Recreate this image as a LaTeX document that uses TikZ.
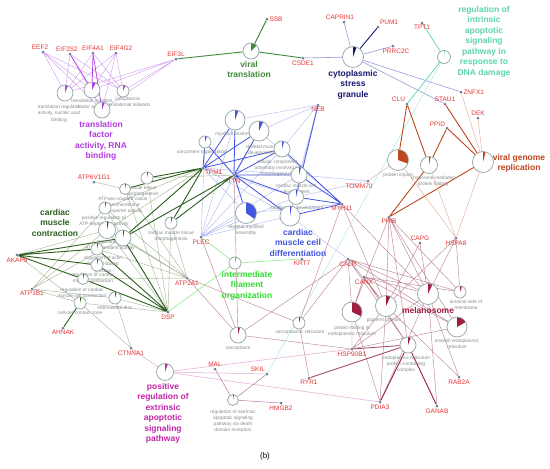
\documentclass[tikz,border=0pt]{standalone}
\usepackage{fontspec}
\setmainfont{Liberation Sans}
\usetikzlibrary{backgrounds}
\definecolor{genered}{RGB}{232,52,52}
\definecolor{dotgray}{RGB}{112,124,150}
\definecolor{ringgray}{RGB}{150,165,165}
\definecolor{lblgray}{RGB}{135,140,140}
\definecolor{trpurple}{RGB}{178,60,224}
\definecolor{trlight}{RGB}{212,164,240}
\definecolor{vtgreen}{RGB}{64,140,58}
\definecolor{sgnavy}{RGB}{22,22,110}
\definecolor{sglight}{RGB}{150,156,218}
\definecolor{ddteal}{RGB}{95,212,176}
\definecolor{ddlight}{RGB}{170,234,214}
\definecolor{vgbrown}{RGB}{190,70,30}
\definecolor{vglight}{RGB}{226,178,160}
\definecolor{myblue}{RGB}{66,84,224}
\definecolor{mylight}{RGB}{182,190,242}
\definecolor{kgreen}{RGB}{44,96,30}
\definecolor{klight}{RGB}{170,186,158}
\definecolor{ifgreen}{RGB}{52,222,52}
\definecolor{iflight}{RGB}{120,236,120}
\definecolor{melred}{RGB}{158,30,62}
\definecolor{melmid}{RGB}{160,72,102}
\definecolor{mellight}{RGB}{190,136,154}
\definecolor{pxmag}{RGB}{196,36,168}
\definecolor{pxlight}{RGB}{230,166,216}
\definecolor{rexedge}{RGB}{172,112,150}
\begin{document}
\begin{tikzpicture}[
  x=1pt,y=-1pt,
  gene/.style={circle,fill=dotgray,inner sep=0pt,minimum size=3pt},
  genelbl/.style={text=genered,font=\fontsize{6.5}{7.5}\selectfont,inner sep=0.6pt},
  term/.style={circle,draw=ringgray,fill=white,line width=0.75pt,inner sep=0pt,minimum size=#1},
  pie/.style 2 args={path picture={
      \pgfmathsetmacro\pieq{90-#2/4}\pgfmathsetmacro\pieh{90-#2/2}
      \pgfmathsetmacro\piet{90-3*#2/4}\pgfmathsetmacro\piee{90-#2}
      \fill[#1] (path picture bounding box.center) -- (path picture bounding box.north)
        -- (path picture bounding box.\pieq) -- (path picture bounding box.\pieh)
        -- (path picture bounding box.\piet) -- (path picture bounding box.\piee) -- cycle;}},
  termlbl/.style={text=lblgray,font=\fontsize{4.8}{6.2}\selectfont,align=center,anchor=north,inner sep=0pt},
  clus/.style={font=\fontsize{8.5}{10.5}\selectfont\bfseries,align=center,anchor=north,inner sep=0pt},
  lt/.style={line width=0.45pt},
  dk/.style={line width=0.9pt}]
  \useasboundingbox (0,0) rectangle (550,469);
  % genes
  \node[gene,label={[genelbl,xshift=-3pt]above:EEF2}] (eef2) at (43,52) {};
  \node[gene,label={[genelbl,xshift=-3pt]above:EIF2S2}] (eif2s2) at (70,54) {};
  \node[gene,label={[genelbl]above:EIF4A1}] (eif4a1) at (93,53) {};
  \node[gene,label={[genelbl,xshift=5pt]above:EIF4G2}] (eif4g2) at (116,53) {};
  \node[gene,label={[genelbl]above:EIF3L}] (eif3l) at (176,59) {};
  \node[gene,label={[genelbl]right:SSB}] (ssb) at (267,19) {};
  \node[gene,label={[genelbl]below:CSDE1}] (csde1) at (303,58) {};
  \node[gene,label={[genelbl,xshift=-4pt]above:CAPRIN1}] (caprin1) at (344,22) {};
  \node[gene,label={[genelbl]above right:PUM1}] (pum1) at (378,27) {};
  \node[gene,label={[genelbl,xshift=3pt]below:PRRC2C}] (prrc2c) at (393,46) {};
  \node[gene,label={[genelbl]below:TPT1}] (tpt1) at (422,23) {};
  \node[gene,label={[genelbl]right:ZNFX1}] (znfx1) at (461,92) {};
  \node[gene,label={[genelbl]above:STAU1}] (stau1) at (445,104) {};
  \node[gene,label={[genelbl]above left:CLU}] (clu) at (407,104) {};
  \node[gene,label={[genelbl]above:DEK}] (dek) at (478,118) {};
  \node[gene,label={[genelbl]above left:PPID}] (ppid) at (447,128) {};
  \node[gene,label={[genelbl,xshift=-9pt]below:TOMM70}] (tomm70) at (368,181) {};
  \node[gene,label={[genelbl]below:PPIB}] (ppib) at (389,217) {};
  \node[gene,label={[genelbl]below:HSPA8}] (hspa8) at (456,238) {};
  \node[gene,label={[genelbl]above:CAPG}] (capg) at (420,243) {};
  \node[gene,label={[genelbl]below:NEB}] (neb) at (318,105) {};
  \node[gene,label={[genelbl]below right:TPM1}] (tpm1) at (203,168) {};
  \node[gene,label={[genelbl,label distance=2pt]below:TTN}] (ttn) at (234,175) {};
  \node[gene,label={[genelbl]below:MYH11}] (myh11) at (342,204) {};
  \node[gene,label={[genelbl]below:PLEC}] (plec) at (201,237) {};
  \node[gene,label={[genelbl]below:KRT7}] (krt7) at (302,259) {};
  \node[gene,label={[genelbl]below:CALR}] (calr) at (348,259) {};
  \node[gene,label={[genelbl]below:CANX}] (canx) at (364,277) {};
  \node[gene,label={[genelbl]below:HSP90B1}] (hsp90b1) at (352,349) {};
  \node[gene,label={[genelbl]below:RYR1}] (ryr1) at (309,378) {};
  \node[gene,label={[genelbl]above left:SKIL}] (skil) at (267,374) {};
  \node[gene,label={[genelbl]above:MAL}] (mal) at (215,369) {};
  \node[gene,label={[genelbl]below:HMGB2}] (hmgb2) at (281,403) {};
  \node[gene,label={[genelbl]below:PDIA3}] (pdia3) at (380,402) {};
  \node[gene,label={[genelbl]below:GANAB}] (ganab) at (437,406) {};
  \node[gene,label={[genelbl]below:RAB2A}] (rab2a) at (459,377) {};
  \node[gene,label={[genelbl]above:ATP6V1G1}] (atp6v1g1) at (94,182) {};
  \node[gene,label={[genelbl]below:AKAP9}] (akap9) at (17,255) {};
  \node[gene,label={[genelbl]below:ATP1B1}] (atp1b1) at (32,289) {};
  \node[gene,label={[genelbl]below:AHNAK}] (ahnak) at (63,328) {};
  \node[gene,label={[genelbl]below:CTNNA1}] (ctnna1) at (131,348) {};
  \node[gene,label={[genelbl]below:DSP}] (dsp) at (168,312) {};
  \node[gene,label={[genelbl]below:ATP2A1}] (atp2a1) at (187,278) {};
  % term texts
  \node[termlbl] (tralbl) at (59,105) {translation regulator\\activity, nucleic acid\\binding};
  \node[termlbl] (trblbl) at (92,98.5) {translation initiation\\factor activity};
  \node[termlbl] (trclbl) at (128,96.5) {cytoplasmic\\translational initiation};
  \node[termlbl] (pimlbl) at (398,172.5) {protein import};
  \node[termlbl] (cmflbl) at (433,175.5) {chaperone-mediated\\protein folding};
  \node[termlbl] (myalbl) at (235,131.5) {myofibril assembly};
  \node[termlbl] (myblbl) at (262,144.5) {skeletal muscle\\development};
  \node[termlbl] (myclbl) at (202,149.5) {sarcomere organization};
  \node[termlbl] (mydlbl) at (277,159.5) {cellular component\\assembly involved in\\morphogenesis};
  \node[termlbl] (myelbl) at (296,183.5) {cardiac muscle cell\\development};
  \node[termlbl] (myflbl) at (297,205.5) {cardiac cell development};
  \node[termlbl] (myhlbl) at (246,224.5) {skeletal myofibril\\assembly};
  \node[termlbl] (kblbl) at (142,186) {muscle tissue\\morphogenesis};
  \node[termlbl] (kclbl) at (123,196.5) {ATPase-coupled cation\\transmembrane\\transporter activity};
  \node[termlbl] (kdlbl) at (104,215.5) {positive regulation of\\ATP-dependent activity};
  \node[termlbl] (kelbl) at (110,240) {regulation of\\ATP-dependent activity};
  \node[termlbl] (kflbl) at (103,256) {regulation of actin\\filament-based\\process};
  \node[termlbl] (kglbl) at (93,273) {regulation of cardiac\\muscle contraction};
  \node[termlbl] (khlbl) at (82,288) {regulation of cardiac\\muscle cell contraction};
  \node[termlbl] (kilbl) at (80,310.5) {cell-cell contact zone};
  \node[termlbl] (kjlbl) at (115,305.5) {intercalated disc};
  \node[termlbl] (kklbl) at (171,230.5) {cardiac muscle tissue\\morphogenesis};
  \node[termlbl] (rexlbl) at (233,409.5) {regulation of extrinsic\\apoptotic signaling\\pathway via death\\domain receptors};
  \node[termlbl] (spllbl) at (238,345.5) {sarcoplasm};
  \node[termlbl] (srtlbl) at (300,329.5) {sarcoplasmic reticulum};
  \node[termlbl] (pfelbl) at (352,325.5) {protein folding in\\endoplasmic reticulum};
  \node[termlbl] (pgrlbl) at (384,317.5) {pigment granule};
  \node[termlbl] (lumlbl) at (466,299.5) {lumenal side of\\membrane};
  \node[termlbl] (serlbl) at (457,338.5) {smooth endoplasmic\\reticulum};
  \node[termlbl] (erclbl) at (406,355.5) {endoplasmic reticulum\\protein-containing\\complex};
  % terms
  \node[term=16pt,pie={trpurple}{22}] (tra) at (65,93) {};
  \node[term=16pt,pie={trpurple}{28}] (trb) at (92,90) {};
  \node[term=12pt,pie={trpurple}{25}] (trc) at (123,91) {};
  \node[term=16pt,pie={trpurple}{20}] (trd) at (102,110) {};
  \node[term=16pt,pie={vtgreen}{45}] (vtr) at (251,51) {};
  \node[term=21pt,pie={sgnavy}{20}] (sgr) at (353,57) {};
  \node[term=13pt,pie={ddteal}{8}] (ddr) at (444,57) {};
  \node[term=21pt,pie={vgbrown}{110}] (pim) at (398,160) {};
  \node[term=17pt,pie={vgbrown}{12}] (cmf) at (429,165) {};
  \node[term=21pt,pie={vgbrown}{15}] (vgr) at (483,162) {};
  \node[term=20pt,pie={myblue}{20}] (mya) at (235,120) {};
  \node[term=20pt,pie={myblue}{25}] (myb) at (259,131) {};
  \node[term=12pt,pie={myblue}{20}] (myc) at (205,142) {};
  \node[term=16pt,pie={myblue}{15}] (myd) at (282,149) {};
  \node[term=16pt,pie={myblue}{15}] (mye) at (299,175) {};
  \node[term=15pt,pie={myblue}{15}] (myf) at (296,197) {};
  \node[term=20pt,pie={myblue}{10}] (myg) at (290,216) {};
  \node[term=21pt,pie={myblue}{125}] (myh) at (246,213) {};
  \node[term=12pt,pie={kgreen}{10}] (ka) at (147,178) {};
  \node[term=11pt,pie={kgreen}{12}] (kb) at (125,189) {};
  \node[term=12pt,pie={kgreen}{12}] (kc) at (105,208) {};
  \node[term=17pt,pie={kgreen}{12}] (kd) at (107,230) {};
  \node[term=16pt,pie={kgreen}{10}] (ke) at (123,238) {};
  \node[term=12pt,pie={kgreen}{12}] (kf) at (97,249) {};
  \node[term=12pt,pie={kgreen}{12}] (kg) at (97,265) {};
  \node[term=11pt,pie={kgreen}{15}] (kh) at (83,279) {};
  \node[term=12pt,pie={kgreen}{15}] (ki) at (80,303) {};
  \node[term=12pt,pie={kgreen}{15}] (kj) at (115,298) {};
  \node[term=12pt,pie={kgreen}{15}] (kk) at (171,223) {};
  \node[term=12pt,pie={ifgreen}{15}] (ifo) at (235,263) {};
  \node[term=17pt,pie={pxmag}{20}] (prx) at (165,372) {};
  \node[term=11pt,pie={melred}{10}] (rex) at (233,400) {};
  \node[term=16pt,pie={melred}{15}] (spl) at (238,335) {};
  \node[term=12pt,pie={melred}{15}] (srt) at (299,323) {};
  \node[term=20pt,pie={melred}{115}] (pfe) at (352,312) {};
  \node[term=21pt,pie={melred}{25}] (pgr) at (386,306) {};
  \node[term=21pt,pie={melred}{25}] (mel) at (428,294) {};
  \node[term=12pt,pie={melred}{20}] (lum) at (460,292) {};
  \node[term=20pt,pie={melred}{60}] (ser) at (457,327) {};
  \node[term=16pt,pie={melred}{20}] (erc) at (408,345) {};
  % cluster names
  \node[clus,text=trpurple] (trclus) at (101,121) {translation\\factor\\activity, RNA\\binding};
  \node[clus,text=vtgreen] (vtclus) at (249,61) {viral\\translation};
  \node[clus,text=sgnavy] (sgclus) at (353,70) {cytoplasmic\\stress\\granule};
  \node[clus,text=ddteal] (ddclus) at (484,6) {regulation of\\intrinsic\\apoptotic\\signaling\\pathway in\\response to\\DNA damage};
  \node[clus,text=vgbrown] (vgclus) at (519,154) {viral genome\\replication};
  \node[clus,text=kgreen] (kclus) at (55,209) {cardiac\\muscle\\contraction};
  \node[clus,text=myblue] (myclus) at (298,229) {cardiac\\muscle cell\\differentiation};
  \node[clus,text=ifgreen] (ifclus) at (247,271) {intermediate\\filament\\organization};
  \node[clus,text=melred] (melclus) at (428,307) {melanosome};
  \node[clus,text=pxmag] (pxclus) at (163,383) {positive\\regulation of\\extrinsic\\apoptotic\\signaling\\pathway};
  \node[font=\fontsize{8}{9}\selectfont] (panel) at (265,456) {(b)};
  \begin{pgfonlayer}{background}
    \fill[white] (0,0) rectangle (550,469);
    % translation factor activity
    \draw[trlight,lt] (eef2)--(tra) (eef2)--(trb) (eef2)--(trc) (eef2)--(trd)
      (eif2s2)--(tra) (eif2s2)--(trc) (eif2s2)--(trd) (eif4a1)--(tra) (eif4a1)--(trc)
      (eif4g2)--(tra) (eif4g2)--(trb) (eif4g2)--(trc) (eif4g2)--(trd)
      (eif3l)--(tra) (eif3l)--(trb) (eif3l)--(trc) (eif3l)--(trd);
    \draw[trpurple,line width=0.7pt] (eif4a1)--(trb) (eif4a1)--(trd) (eif2s2)--(trb);
    % viral translation and stress granule
    \draw[vtgreen,dk] (eif3l)--(vtr) (ssb)--(vtr) (vtr)--(csde1);
    \draw[sglight,line width=0.6pt] (csde1)--(sgr) (caprin1)--(sgr) (sgr)--(prrc2c)
      (sgr)--(znfx1) (sgr)--(stau1);
    \draw[sgnavy,dk] (sgr)--(pum1);
    % DNA damage
    \draw[ddteal,line width=0.7pt] (tpt1)--(ddr) (ddr)--(clu);
    \draw[ddlight,lt] (ddr)--(skil);
    % viral genome replication
    \draw[vgbrown,dk] (clu)--(pim) (clu)--(cmf) (stau1)--(vgr) (ppid)--(vgr) (ppid)--(cmf)
      (ppib)--(cmf) (ppib)--(vgr);
    \draw[vglight,lt] (dek)--(vgr) (znfx1)--(vgr) (vgr)--(hspa8) (cmf)--(hspa8)
      (pim)--(hspa8) (pim)--(tomm70);
    % cardiac muscle cell differentiation
    \draw[mylight,lt] (neb)--(mya) (neb)--(myb) (neb)--(myd) (neb)--(mye) (neb)--(myg)
      (plec)--(mya) (plec)--(myb) (plec)--(myc) (plec)--(myd) (plec)--(mye) (plec)--(myf)
      (plec)--(myg) (plec)--(myh) (tpm1)--(mye) (tpm1)--(myf) (tpm1)--(myg) (tpm1)--(myh)
      (myh11)--(myb) (myh11)--(myh) (mye)--(tomm70) (myf)--(tomm70) (myg)--(calr);
    \draw[myblue,line width=0.8pt] (ttn)--(mya) (ttn)--(myb) (ttn)--(myc) (ttn)--(myd)
      (ttn)--(mye) (ttn)--(myf) (ttn)--(myg) (ttn)--(myh) (tpm1)--(mya) (tpm1)--(myb)
      (tpm1)--(myc) (tpm1)--(myd) (myh11)--(myd) (myh11)--(mye) (myh11)--(myf)
      (myh11)--(myg) (neb)--(myf);
    % cardiac muscle contraction
    \draw[klight,lt] (atp6v1g1)--(kb) (atp1b1)--(kc) (atp1b1)--(kd) (atp1b1)--(ke)
      (atp1b1)--(ki) (atp1b1)--(kj) (atp2a1)--(kb) (atp2a1)--(kc) (atp2a1)--(kd)
      (atp2a1)--(ke) (atp2a1)--(kf) (atp2a1)--(kh) (atp2a1)--(kk) (dsp)--(ki) (dsp)--(kj)
      (dsp)--(kk) (dsp)--(ka) (dsp)--(kb) (dsp)--(kc) (dsp)--(kd) (ctnna1)--(ki)
      (ctnna1)--(kj) (tpm1)--(kc) (tpm1)--(kd) (ttn)--(ka) (akap9)--(ki) (akap9)--(kd);
    \draw[kgreen,dk] (tpm1)--(ka) (tpm1)--(kb) (tpm1)--(ke) (tpm1)--(kk) (ttn)--(ke)
      (ttn)--(kk) (akap9)--(ke) (akap9)--(kf) (akap9)--(kg) (akap9)--(kh) (dsp)--(ke)
      (dsp)--(kf) (dsp)--(kg) (dsp)--(kh) (ahnak)--(ki);
    % intermediate filament organization
    \draw[iflight,line width=0.5pt] (plec)--(ifo) (ifo)--(krt7) (dsp)--(ifo);
    % melanosome
    \draw[mellight,lt] (ttn)--(spl) (plec)--(spl) (atp2a1)--(spl) (atp2a1)--(srt)
      (calr)--(spl) (calr)--(srt) (hsp90b1)--(spl) (ryr1)--(srt) (myh11)--(srt)
      (myh11)--(pgr) (myh11)--(mel)
      (calr)--(pfe) (calr)--(pgr) (calr)--(mel) (calr)--(lum) (calr)--(ser) (calr)--(erc)
      (canx)--(pfe) (canx)--(pgr) (canx)--(mel) (canx)--(lum) (canx)--(ser) (canx)--(erc)
      (hsp90b1)--(pfe) (hsp90b1)--(pgr) (hsp90b1)--(mel) (hsp90b1)--(ser)
      (pdia3)--(pfe) (pdia3)--(pgr) (pdia3)--(mel) (ganab)--(mel) (rab2a)--(pgr)
      (rab2a)--(mel) (ppib)--(pfe) (ppib)--(pgr) (ppib)--(mel) (ppib)--(lum) (ppib)--(ser)
      (ppib)--(erc) (hspa8)--(pgr) (hspa8)--(mel) (hspa8)--(lum) (capg)--(pgr) (capg)--(mel);
    \draw[melmid,line width=0.8pt] (ryr1)--(erc) (hsp90b1)--(erc);
    \draw[melred,dk] (pdia3)--(erc) (ganab)--(erc);
    % extrinsic apoptotic signaling
    \draw[pxlight,line width=0.5pt] (ctnna1)--(prx) (prx)--(skil) (prx)--(hsp90b1) (prx)--(pdia3);
    \draw[rexedge,lt] (mal)--(rex) (skil)--(rex) (hmgb2)--(rex);
  \end{pgfonlayer}
\end{tikzpicture}
\end{document}
